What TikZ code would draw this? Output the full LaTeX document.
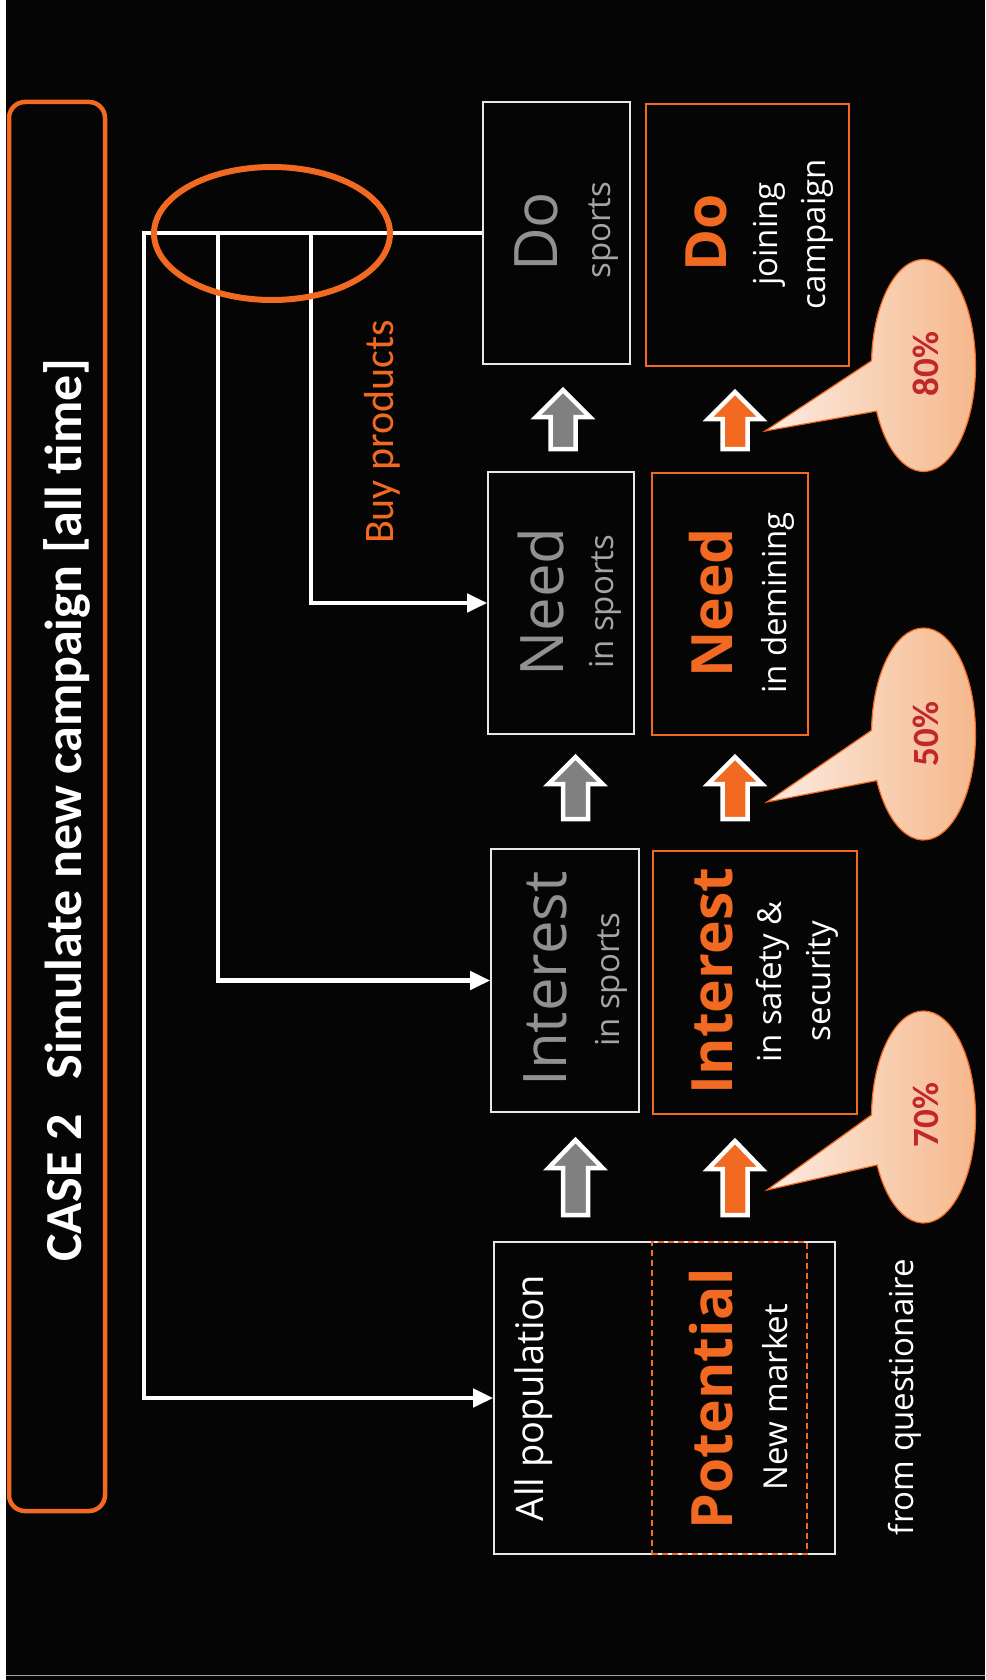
\documentclass[tikz,border=0pt]{standalone}
\usepackage{fontspec}
\setmainfont{Open Sans}
\newfontfamily\calib{Carlito}
\usetikzlibrary{arrows.meta,shapes.geometric,shapes.callouts}

\definecolor{orng}{RGB}{242,106,33}
\definecolor{bgblack}{RGB}{5,5,5}
\definecolor{boxwhite}{RGB}{232,232,232}
\definecolor{biggrey}{RGB}{145,145,145}
\definecolor{smallgrey}{RGB}{165,165,165}
\definecolor{arrgrey}{RGB}{128,128,128}
\definecolor{pctred}{RGB}{192,39,45}
\definecolor{peachlight}{RGB}{253,236,226}
\definecolor{peachdark}{RGB}{245,184,140}

\newcommand\setfs[1]{\fontsize{#1pt}{#1pt}\selectfont}
% upward block arrow: centre x, tip y, head length, bottom y, fill colour
\newcommand\blockup[5]{%
  \filldraw[blockarrow, fill=#5] (#1,#2) -- (#1+27,#2+#3) -- (#1+12.5,#2+#3)
    -- (#1+12.5,#4) -- (#1-12.5,#4) -- (#1-12.5,#2+#3) -- (#1-27,#2+#3) -- cycle;}

\begin{document}
\begin{tikzpicture}[x=1pt,y=-1pt,
  txt/.style={rotate=90, anchor=base, inner sep=0pt, text=white},
  bigg/.style={txt, text=biggrey, font=\setfs{60}},
  bigo/.style={txt, text=orng, font=\bfseries\setfs{57}},
  small/.style={txt, font=\setfs{33}},
  greybox/.style={draw=boxwhite, line width=1.6pt, inner sep=0pt},
  orangebox/.style={draw=orng, line width=1.6pt, inner sep=0pt},
  wire/.style={draw=white, line width=4.5pt},
  wirearrow/.style={wire, -{Triangle[length=20pt,width=18pt]}},
  blockarrow/.style={draw=white, line width=4.5pt, line join=miter},
  pcallout/.style={ellipse callout, draw=orng, line width=1.2pt,
    left color=peachlight, right color=peachdark,
    minimum width=104pt, minimum height=212pt, inner sep=0pt,
    callout pointer arc=28},
  pct/.style={txt, text=pctred, font=\calib\bfseries\setfs{37}}]

\useasboundingbox (0,0) rectangle (985,1680);
\fill[white] (0,0) rectangle (985,1680);
\fill[bgblack] (6,0) rectangle (985,1680);
\draw[gray!70, line width=1pt] (6,1675) -- (985,1675);

% heading bar
\node[draw=orng, line width=4.5pt, rounded corners=16pt, inner sep=0pt,
      minimum width=96pt, minimum height=1409pt] (title) at (57,806.5) {};
\node[txt, font=\calib\bfseries\setfs{52}] (titletext) at (81.5,810)
  {CASE 2\hspace{0.45em} Simulate new campaign [all time]};

% boxes
\node[greybox, minimum width=147pt, minimum height=262pt] (doG) at (556.5,233) {};
\node[orangebox, minimum width=203pt, minimum height=262pt] (doO) at (747.5,235) {};
\node[greybox, minimum width=146pt, minimum height=262pt] (needG) at (561,603) {};
\node[orangebox, minimum width=156pt, minimum height=262pt] (needO) at (730,604) {};
\node[greybox, minimum width=148pt, minimum height=263pt] (intG) at (565,980.5) {};
\node[orangebox, minimum width=204pt, minimum height=263pt] (intO) at (755,982.5) {};
\node[greybox, minimum width=341pt, minimum height=312pt] (allpop) at (664.5,1398) {};
\node[draw=orng, line width=1.5pt, dash pattern=on 6pt off 4pt, inner sep=0pt,
      minimum width=155pt, minimum height=312pt] (potbox) at (729.5,1398) {};

% box texts
\node[bigg] (doGt) at (557,232) {Do};
\node[small, text=smallgrey] (doGs) at (610,230) {sports};
\node[bigo] (doOt) at (726,233) {Do};
\node[small] (doOs1) at (777,234) {joining};
\node[small] (doOs2) at (825,234) {campaign};

\node[bigg] (needGt) at (563,602) {Need};
\node[small, text=smallgrey] (needGs) at (613,602) {in sports};
\node[bigo] (needOt) at (732,603) {Need};
\node[small] (needOs) at (786,603) {in demining};

\node[bigg] (intGt) at (566,979) {Interest};
\node[small, text=smallgrey] (intGs) at (619,980) {in sports};
\node[bigo] (intOt) at (732,981) {Interest};
\node[small] (intOs1) at (781,982) {in safety \&};
\node[small] (intOs2) at (830,981) {security};

\node[txt, font=\setfs{38}] (allpopt) at (543,1398) {All population};
\node[bigo] (pott) at (732,1399) {Potential};
\node[small] (pots) at (787,1397) {New market};
\node[small] (source) at (913,1397) {from questionaire};

\node[txt, text=orng, font=\calib\setfs{42}] (buy) at (393,432) {Buy products};

% feedback wires
\coordinate (j1) at (144,233);
\coordinate (j2) at (218,233);
\coordinate (j3) at (311,233);
\draw[wirearrow, line join=miter] (doG.west) -- (j1) |- (allpop.west);
\draw[wirearrow] (j2) |- (intG.west);
\draw[wirearrow] (j3) |- (needG.west);
\node[draw=orng, line width=6pt, ellipse, inner sep=0pt,
      minimum width=236pt, minimum height=133pt] (ring) at (272,233.5) {};

% step arrows
\blockup{575.5}{1140}{28}{1215}{arrgrey}
\blockup{735}{1141}{28}{1215}{orng}
\blockup{575.5}{757}{27}{819}{arrgrey}
\blockup{735}{757}{27}{819}{orng}
\blockup{563}{390}{27}{449}{arrgrey}
\blockup{735}{392}{27}{449}{orng}

% rate callouts
\node[pcallout, callout absolute pointer={(765,431)}] (c80) at (923.5,365.5) {};
\node[pcallout, callout absolute pointer={(767,802)}] (c50) at (923.5,734) {};
\node[pcallout, callout absolute pointer={(767,1190)}] (c70) at (923.5,1117) {};
\node[pct] (p80) at (938,364) {80\%};
\node[pct] (p50) at (938,734) {50\%};
\node[pct] (p70) at (938,1115) {70\%};

\end{tikzpicture}
\end{document}
